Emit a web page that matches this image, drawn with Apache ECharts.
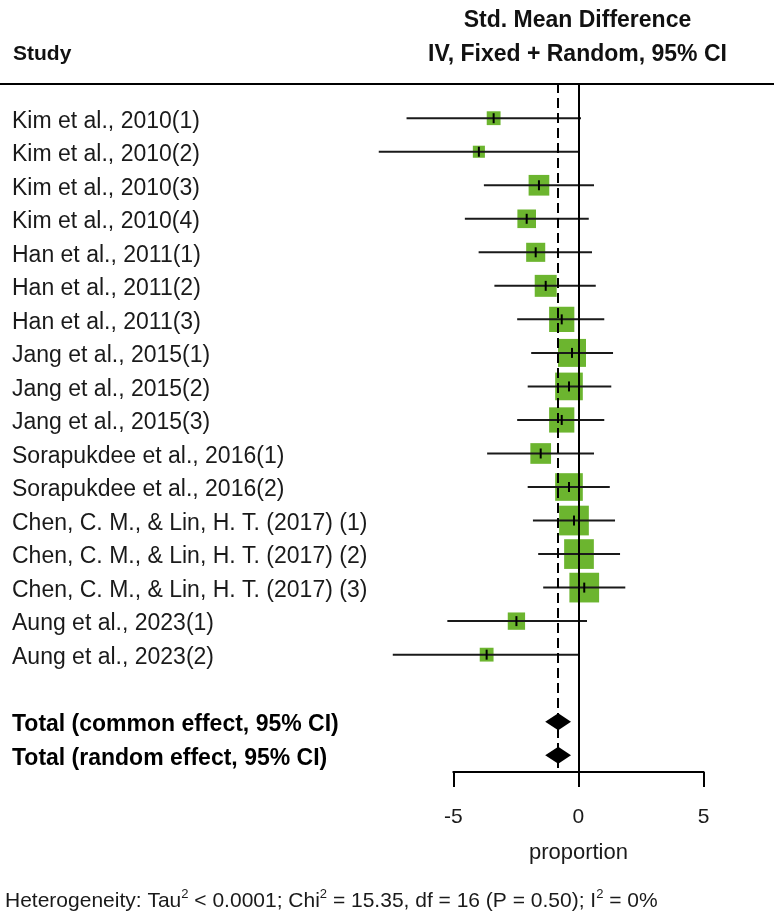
<!DOCTYPE html>
<html>
<head>
<meta charset="utf-8">
<script src="https://cdn.jsdelivr.net/npm/echarts@6/dist/echarts.min.js"></script>
<style>
  html, body { margin: 0; padding: 0; background: #fff; }
  #main { width: 774px; height: 923px; }
</style>
</head>
<body>
<div id="main"></div>
<script>
// study names, top to bottom
var studies = [
    'Kim et al., 2010(1)', 'Kim et al., 2010(2)', 'Kim et al., 2010(3)', 'Kim et al., 2010(4)',
    'Han et al., 2011(1)', 'Han et al., 2011(2)', 'Han et al., 2011(3)',
    'Jang et al., 2015(1)', 'Jang et al., 2015(2)', 'Jang et al., 2015(3)',
    'Sorapukdee et al., 2016(1)', 'Sorapukdee et al., 2016(2)',
    'Chen, C. M., & Lin, H. T. (2017) (1)', 'Chen, C. M., & Lin, H. T. (2017) (2)', 'Chen, C. M., & Lin, H. T. (2017) (3)',
    'Aung et al., 2023(1)', 'Aung et al., 2023(2)'
];
// std. mean difference and 95% CI
var smd   = [-3.39, -3.98, -1.58, -2.07, -1.71, -1.31, -0.67, -0.26, -0.38, -0.67, -1.51, -0.38, -0.18, 0.02, 0.23, -2.48, -3.67];
var lower = [-6.87, -7.98, -3.78, -4.54, -3.99, -3.36, -2.45, -1.89, -2.03, -2.45, -3.65, -2.03, -1.82, -1.61, -1.41, -5.24, -7.42];
var upper = [0.10, 0.02, 0.62, 0.41, 0.54, 0.69, 1.03, 1.38, 1.31, 1.03, 0.62, 1.25, 1.46, 1.66, 1.87, 0.34, 0.03];
// weight (%)
var weights = [2.1, 1.6, 4.7, 3.8, 4.0, 5.3, 7.0, 8.6, 8.4, 7.0, 4.7, 8.4, 9.7, 9.7, 9.7, 3.3, 2.1];

// pooled estimates
var totals = ['Total (common effect, 95% CI)', 'Total (random effect, 95% CI)'];
var totalEst = [-0.81, -0.81];
var totalLo  = [-1.33, -1.33];
var totalHi  = [-0.30, -0.30];
var totalRows = [18, 19];

var axisTicks = [-5, 0, 5];
var heterogeneity = 'Heterogeneity: Tau{sup|2} < 0.0001; Chi{sup|2} = 15.35, df = 16 (P = 0.50); I{sup|2} = 0%';

var labelFont = '"Liberation Sans", Arial, sans-serif';

var studyData = studies.map(function (s, i) {
    return [smd[i], lower[i], upper[i], i, weights[i]];
});
var totalData = totals.map(function (s, i) {
    return [totalEst[i], totalLo[i], totalHi[i], totalRows[i]];
});

var myChart = echarts.init(document.getElementById('main'));

var option = {
    backgroundColor: '#fff',
    animation: false,
    grid: [
        { left: 328.2, width: 425.5, top: 83, height: 689 },
        { left: 453.3, width: 250.3, top: 771, height: 1 }
    ],
    xAxis: [
        { gridIndex: 0, type: 'value', min: -10, max: 7, show: false },
        {
            gridIndex: 1, type: 'value', min: -5, max: 5, interval: 5,
            axisLine: { show: true, lineStyle: { color: '#000', width: 2 } },
            axisTick: { show: true, length: 15, lineStyle: { color: '#000', width: 2 } },
            splitLine: { show: false },
            axisLabel: {
                margin: 35, color: '#1a1a1a', fontSize: 21, fontFamily: labelFont,
                customValues: axisTicks
            },
            name: 'proportion', nameLocation: 'middle', nameGap: 70,
            nameTextStyle: { color: '#1a1a1a', fontSize: 22, fontFamily: labelFont }
        }
    ],
    yAxis: [
        { gridIndex: 0, type: 'value', inverse: true, min: -1.05, max: 19.5, show: false },
        { gridIndex: 1, type: 'value', show: false }
    ],
    series: [
        {
            // boxes
            type: 'custom',
            z: 1,
            data: studyData,
            renderItem: function (params, api) {
                var p = api.coord([api.value(0), api.value(3)]);
                var side = 9.54 * Math.sqrt(api.value(4));
                return {
                    type: 'rect',
                    shape: { x: p[0] - side / 2, y: p[1] - side / 2, width: side, height: side },
                    style: { fill: '#6cb52f' }
                };
            }
        },
        {
            // CI lines, centre ticks and study labels
            type: 'custom',
            z: 3,
            data: studyData,
            renderItem: function (params, api) {
                var row = api.value(3);
                var pe = api.coord([api.value(0), row]);
                var pl = api.coord([api.value(1), row]);
                var ph = api.coord([api.value(2), row]);
                return {
                    type: 'group',
                    children: [
                        { type: 'line', shape: { x1: pl[0], y1: pl[1], x2: ph[0], y2: ph[1] },
                          style: { stroke: '#1a1a1a', lineWidth: 2 } },
                        { type: 'line', shape: { x1: pe[0], y1: pe[1] - 5, x2: pe[0], y2: pe[1] + 5 },
                          style: { stroke: '#000', lineWidth: 2 } },
                        { type: 'text', x: 12, y: pe[1] + 3,
                          style: { text: studies[params.dataIndex], fill: '#1a1a1a', font: '23px ' + labelFont,
                                   verticalAlign: 'middle', align: 'left' } }
                    ]
                };
            },
            markLine: {
                silent: true,
                symbol: 'none',
                label: { show: false },
                data: [
                    { xAxis: 0, lineStyle: { color: '#000', width: 2, type: 'solid' } },
                    { xAxis: totalEst[0], lineStyle: { color: '#000', width: 2, type: [10, 5] } }
                ]
            }
        },
        {
            // pooled diamonds and labels
            type: 'custom',
            z: 4,
            data: totalData,
            renderItem: function (params, api) {
                var row = api.value(3);
                var pe = api.coord([api.value(0), row]);
                var pl = api.coord([api.value(1), row]);
                var ph = api.coord([api.value(2), row]);
                var h = 8.5;
                return {
                    type: 'group',
                    children: [
                        { type: 'polygon',
                          shape: { points: [[pl[0], pe[1]], [pe[0], pe[1] - h], [ph[0], pe[1]], [pe[0], pe[1] + h]] },
                          style: { fill: '#000' } },
                        { type: 'text', x: 12, y: pe[1] + 3,
                          style: { text: totals[params.dataIndex], fill: '#000', font: 'bold 23px ' + labelFont,
                                   verticalAlign: 'middle', align: 'left' } }
                    ]
                };
            }
        }
    ],
    graphic: [
        { type: 'line', shape: { x1: 0, y1: 84, x2: 774, y2: 84 }, style: { stroke: '#000', lineWidth: 2 } },
        { type: 'text', x: 13, y: 54,
          style: { text: 'Study', font: 'bold 21px ' + labelFont, fill: '#111', verticalAlign: 'middle' } },
        { type: 'text', x: 577.5, y: 21,
          style: { text: 'Std. Mean Difference', font: 'bold 23px ' + labelFont, fill: '#111',
                   align: 'center', verticalAlign: 'middle' } },
        { type: 'text', x: 577.5, y: 55,
          style: { text: 'IV, Fixed + Random, 95% CI', font: 'bold 23px ' + labelFont, fill: '#111',
                   align: 'center', verticalAlign: 'middle' } },
        { type: 'text', x: 5, y: 901,
          style: {
              text: heterogeneity, fill: '#1a1a1a', font: '21px ' + labelFont, verticalAlign: 'middle',
              rich: { sup: { fontSize: 13, fontFamily: labelFont, fill: '#1a1a1a', padding: [0, 0, 13, 0] } }
          } }
    ]
};

myChart.setOption(option);
</script>
</body>
</html>
